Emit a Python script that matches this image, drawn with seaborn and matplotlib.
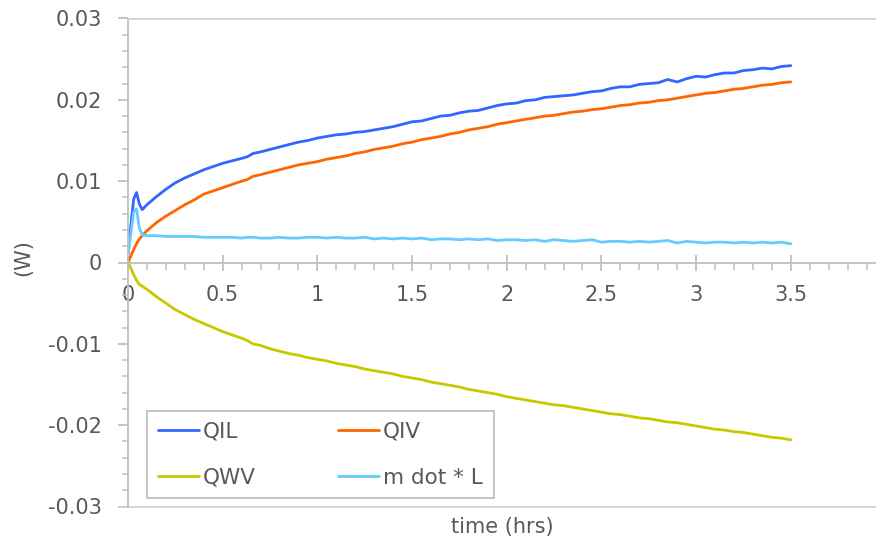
import matplotlib
matplotlib.use("Agg")
import matplotlib.pyplot as plt
from matplotlib.ticker import MultipleLocator, FuncFormatter
import seaborn as sns
import pandas as pd

# Elapsed time (hours)
time_hrs = [0.0, 0.015, 0.03, 0.045, 0.06, 0.075, 0.1, 0.15, 0.2, 0.25, 0.3, 0.35,
            0.4, 0.45, 0.5, 0.55, 0.6, 0.63, 0.66, 0.7, 0.75, 0.8, 0.85, 0.9, 0.95,
            1.0, 1.05, 1.1, 1.15, 1.2, 1.25, 1.3, 1.35, 1.4, 1.45, 1.5, 1.55, 1.6,
            1.65, 1.7, 1.75, 1.8, 1.85, 1.9, 1.95, 2.0, 2.05, 2.1, 2.15, 2.2, 2.25,
            2.3, 2.35, 2.4, 2.45, 2.5, 2.55, 2.6, 2.65, 2.7, 2.75, 2.8, 2.85, 2.9,
            2.95, 3.0, 3.05, 3.1, 3.15, 3.2, 3.25, 3.3, 3.35, 3.4, 3.45, 3.5]

# Heat flows (W)
qil = [0.0010, 0.0045, 0.0078, 0.0086, 0.0072, 0.0065, 0.0071, 0.0081, 0.0090, 0.0098,
       0.0104, 0.0109, 0.0114, 0.0118, 0.0122, 0.0125, 0.0128, 0.0130, 0.0134, 0.0136,
       0.0139, 0.0142, 0.0145, 0.0148, 0.0150,
       0.0153, 0.0155, 0.0157, 0.0158, 0.0160, 0.0161, 0.0163, 0.0165, 0.0167, 0.0170,
       0.0173, 0.0174, 0.0177, 0.0180, 0.0181, 0.0184, 0.0186, 0.0187, 0.0190, 0.0193,
       0.0195, 0.0196, 0.0199, 0.0200, 0.0203, 0.0204, 0.0205, 0.0206, 0.0208, 0.0210,
       0.0211, 0.0214, 0.0216, 0.0216, 0.0219, 0.0220, 0.0221, 0.0225, 0.0222, 0.0226,
       0.0229, 0.0228, 0.0231, 0.0233, 0.0233, 0.0236, 0.0237, 0.0239, 0.0238, 0.0241,
       0.0242]

qiv = [0.0, 0.0008, 0.0016, 0.0023, 0.0029, 0.0033, 0.0039, 0.0049, 0.0057, 0.0064,
       0.0071, 0.0077, 0.0084, 0.0088, 0.0092, 0.0096, 0.0100, 0.0102, 0.0106, 0.0108,
       0.0111, 0.0114, 0.0117, 0.0120, 0.0122,
       0.0124, 0.0127, 0.0129, 0.0131, 0.0134, 0.0136, 0.0139, 0.0141, 0.0143, 0.0146,
       0.0148, 0.0151, 0.0153, 0.0155, 0.0158, 0.0160, 0.0163, 0.0165, 0.0167, 0.0170,
       0.0172, 0.0174, 0.0176, 0.0178, 0.0180, 0.0181, 0.0183, 0.0185, 0.0186, 0.0188,
       0.0189, 0.0191, 0.0193, 0.0194, 0.0196, 0.0197, 0.0199, 0.0200, 0.0202, 0.0204,
       0.0206, 0.0208, 0.0209, 0.0211, 0.0213, 0.0214, 0.0216, 0.0218, 0.0219, 0.0221,
       0.0222]

qwv = [0.0, -0.0007, -0.0015, -0.0022, -0.0027, -0.0029, -0.0033, -0.0042, -0.0050, -0.0058,
       -0.0064, -0.0070, -0.0075, -0.0080, -0.0085, -0.0089, -0.0093, -0.0096, -0.0100, -0.0102,
       -0.0106, -0.0109, -0.0112, -0.0114, -0.0117,
       -0.0119, -0.0121, -0.0124, -0.0126, -0.0128, -0.0131, -0.0133, -0.0135, -0.0137, -0.0140,
       -0.0142, -0.0144, -0.0147, -0.0149, -0.0151, -0.0153, -0.0156, -0.0158, -0.0160, -0.0162,
       -0.0165, -0.0167, -0.0169, -0.0171, -0.0173, -0.0175, -0.0176, -0.0178, -0.0180, -0.0182,
       -0.0184, -0.0186, -0.0187, -0.0189, -0.0191, -0.0192, -0.0194, -0.0196, -0.0197, -0.0199,
       -0.0201, -0.0203, -0.0205, -0.0206, -0.0208, -0.0209, -0.0211, -0.0213, -0.0215, -0.0216,
       -0.0218]

mdot_l = [0.0010, 0.0035, 0.0062, 0.0066, 0.0042, 0.0034, 0.0033, 0.0033, 0.0032, 0.0032,
          0.0032, 0.0032, 0.0031, 0.0031, 0.0031, 0.0031, 0.0030, 0.0031, 0.0031, 0.0030,
          0.0030, 0.0031, 0.0030, 0.0030, 0.0031,
          0.0031, 0.0030, 0.0031, 0.0030, 0.0030, 0.0031, 0.0029, 0.0030, 0.0029, 0.0030,
          0.0029, 0.0030, 0.0028, 0.0029, 0.0029, 0.0028, 0.0029, 0.0028, 0.0029, 0.0027,
          0.0028, 0.0028, 0.0027, 0.0028, 0.0026, 0.0028, 0.0027, 0.0026, 0.0027, 0.0028,
          0.0025, 0.0026, 0.0026, 0.0025, 0.0026, 0.0025, 0.0026, 0.0027, 0.0024, 0.0026,
          0.0025, 0.0024, 0.0025, 0.0025, 0.0024, 0.0025, 0.0024, 0.0025, 0.0024, 0.0025,
          0.0023]

series_names = ["QIL", "QIV", "QWV", "m dot * L"]
series_colors = ["#3366FF", "#FF6600", "#C8C800", "#66CCFF"]

frames = []
for name, vals in zip(series_names, [qil, qiv, qwv, mdot_l]):
    frames.append(pd.DataFrame({"time": time_hrs, "value": vals, "series": name}))
df = pd.concat(frames, ignore_index=True)

sns.set_style("white")
plt.rcParams["font.family"] = ["DejaVu Sans"]

text_color = "#595959"
axis_color = "#BFBFBF"

fig = plt.figure(figsize=(8.76, 5.42), dpi=100)
ax = fig.add_axes([128 / 876, 1 - 506.5 / 542, 1 - 128 / 876, 488 / 542])

sns.lineplot(data=df, x="time", y="value", hue="series", hue_order=series_names,
             palette=dict(zip(series_names, series_colors)), linewidth=2.0,
             estimator=None, sort=False, ax=ax)

ax.set_xlim(0, 3.95)
ax.set_ylim(-0.03, 0.03)

# Axis lines: y axis on the left, x axis through zero, light frame lines top and bottom
ax.spines["right"].set_visible(False)
ax.spines["bottom"].set_position(("data", 0))
for side in ["left", "bottom", "top"]:
    ax.spines[side].set_color(axis_color)
    ax.spines[side].set_linewidth(1.3)
ax.spines["top"].set_color("#D0D0D0")
ax.axhline(-0.03, xmin=-0.012, xmax=1, color="#D0D0D0", lw=1.3, clip_on=False)

ax.xaxis.set_major_locator(MultipleLocator(0.5))
ax.xaxis.set_minor_locator(MultipleLocator(0.1))
ax.yaxis.set_major_locator(MultipleLocator(0.01))
ax.yaxis.set_minor_locator(MultipleLocator(0.002))

def fmt(v, _):
    v = round(v, 4)
    if v == 0:
        return "0"
    return f"{v:g}"

ax.xaxis.set_major_formatter(FuncFormatter(fmt))
ax.yaxis.set_major_formatter(FuncFormatter(fmt))

ax.tick_params(axis="x", which="major", direction="inout", length=12, width=1.3,
               color=axis_color, labelsize=15, labelcolor=text_color, pad=10,
               bottom=True, top=False)
ax.tick_params(axis="x", which="minor", direction="out", length=5, width=1.1,
               color=axis_color, bottom=True, top=False)
ax.tick_params(axis="y", which="major", direction="out", length=7, width=1.3,
               color=axis_color, labelsize=15, labelcolor=text_color, pad=12,
               left=True, right=False)
ax.tick_params(axis="y", which="minor", direction="out", length=4.5, width=1.1,
               color=axis_color, left=True, right=False)

ax.set_xlabel("")
ax.set_ylabel("")
fig.text(502 / 876, 1 - 527 / 542, "time (hrs)", ha="center", va="center",
         fontsize=15, color=text_color)
fig.text(23 / 876, 1 - 258 / 542, "(W)", ha="center", va="center", rotation=90,
         fontsize=15, color=text_color)

# Legend laid out row-wise: QIL, QIV / QWV, m dot * L
handles, labels = ax.get_legend_handles_labels()
ax.get_legend().remove()
lookup = dict(zip(labels, handles))
order = ["QIL", "QWV", "QIV", "m dot * L"]
leg = fig.legend([lookup[k] for k in order], order, ncol=2,
                 loc="upper left", bbox_to_anchor=(147 / 876, 1 - 411 / 542),
                 bbox_transform=fig.transFigure, fontsize=15.5, frameon=True,
                 fancybox=False, edgecolor=axis_color, framealpha=1,
                 handlelength=1.9, handletextpad=0.2, columnspacing=3.8,
                 labelspacing=1.2, borderpad=0.5, borderaxespad=0)
leg.get_frame().set_linewidth(1.3)
for t in leg.get_texts():
    t.set_color(text_color)
for ln in leg.get_lines():
    ln.set_linewidth(2.0)

fig.savefig("out.png", dpi=100)
